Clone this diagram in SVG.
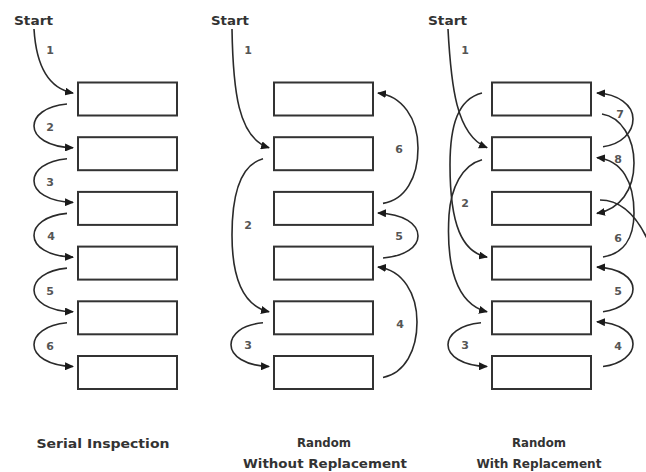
<svg xmlns="http://www.w3.org/2000/svg" width="646" height="472" viewBox="0 0 646 472">
<style>
.box{fill:#fff;stroke:#333;stroke-width:2}
.c{fill:none;stroke:#2a2a2a;stroke-width:1.6}
.a{marker-end:url(#ah)}
.n{font-family:"DejaVu Sans",sans-serif;font-weight:bold;font-size:11px;fill:#555;text-anchor:middle}
.s{font-family:"DejaVu Sans",sans-serif;font-weight:bold;font-size:13px;fill:#333;text-anchor:middle}
.t{font-family:"DejaVu Sans",sans-serif;font-weight:bold;font-size:12.5px;fill:#333;text-anchor:middle}
</style>
<defs>
<marker id="ah" markerUnits="userSpaceOnUse" markerWidth="9" markerHeight="8" refX="8" refY="4" orient="auto">
<path d="M0,0 L9,4 L0,8 z" fill="#1a1a1a"/>
</marker>
</defs>
<rect width="646" height="472" fill="#fff"/>

<g id="serial">
<text class="s" x="33.5" y="25" textLength="39" lengthAdjust="spacingAndGlyphs">Start</text>
<rect id="s1" class="box" x="78" y="82.5" width="99" height="33"/>
<rect id="s2" class="box" x="78" y="137.2" width="99" height="33"/>
<rect id="s3" class="box" x="78" y="191.9" width="99" height="33"/>
<rect id="s4" class="box" x="78" y="246.6" width="99" height="33"/>
<rect id="s5" class="box" x="78" y="301.3" width="99" height="33"/>
<rect id="s6" class="box" x="78" y="356" width="99" height="33"/>
<text class="t" x="103" y="448" textLength="133" lengthAdjust="spacingAndGlyphs">Serial Inspection</text>
</g>

<g id="without">
<text class="s" x="230" y="25" textLength="38" lengthAdjust="spacingAndGlyphs">Start</text>
<rect id="w1" class="box" x="274" y="82.5" width="99" height="33"/>
<rect id="w2" class="box" x="274" y="137.2" width="99" height="33"/>
<rect id="w3" class="box" x="274" y="191.9" width="99" height="33"/>
<rect id="w4" class="box" x="274" y="246.6" width="99" height="33"/>
<rect id="w5" class="box" x="274" y="301.3" width="99" height="33"/>
<rect id="w6" class="box" x="274" y="356" width="99" height="33"/>
<text class="t" x="324" y="447" textLength="54" lengthAdjust="spacingAndGlyphs">Random</text>
<text class="t" x="325" y="468" textLength="164" lengthAdjust="spacingAndGlyphs">Without Replacement</text>
</g>

<g id="with">
<text class="s" x="447.5" y="25" textLength="39" lengthAdjust="spacingAndGlyphs">Start</text>
<rect id="r1" class="box" x="492" y="82.5" width="99" height="33"/>
<rect id="r2" class="box" x="492" y="137.2" width="99" height="33"/>
<rect id="r3" class="box" x="492" y="191.9" width="99" height="33"/>
<rect id="r4" class="box" x="492" y="246.6" width="99" height="33"/>
<rect id="r5" class="box" x="492" y="301.3" width="99" height="33"/>
<rect id="r6" class="box" x="492" y="356" width="99" height="33"/>
<text class="t" x="539" y="447" textLength="54" lengthAdjust="spacingAndGlyphs">Random</text>
<text class="t" x="539" y="468" textLength="125" lengthAdjust="spacingAndGlyphs">With Replacement</text>
</g>

<g id="connectors">
<!-- serial -->
<path class="c a" d="M34,29 C36,62 46,88 73,93"/>
<path class="c a" d="M67,104 C45,106 34,116 34,126 C34,137 48,147 73,147.7"/>
<path class="c a" d="M67,158.7 C45,160.7 34,170.7 34,180.7 C34,191.7 48,201.7 73,202.4"/>
<path class="c a" d="M67,213.4 C45,215.4 34,225.4 34,235.4 C34,246.4 48,256.4 73,257.1"/>
<path class="c a" d="M67,268.1 C45,270.1 34,280.1 34,290.1 C34,301.1 48,311.1 73,311.8"/>
<path class="c a" d="M67,322.8 C45,324.8 34,334.8 34,344.8 C34,355.8 48,365.8 73,366.5"/>
<!-- without replacement -->
<path class="c a" d="M232,29 C233,90 238,138 269,147.7"/>
<path class="c a" d="M263,158.7 C240,165 232,195 232,235 C232,280 244,306 269,311.8"/>
<path class="c a" d="M263,322.8 C241,324.8 231,334.8 231,344.8 C231,355.8 245,365.8 269,366.5"/>
<path class="c a" d="M383,203.4 C405,200 418,178 418,148 C418,118 402,96 378,93"/>
<path class="c a" d="M383,258 C405,256 418,247 418,236 C418,224 404,214 378,213"/>
<path class="c a" d="M383,377.5 C405,373 417,350 417,322 C417,294 403,270 378,267"/>
<!-- with replacement -->
<path class="c a" d="M448,29 C451,85 456,135 487,147.7"/>
<path class="c a" d="M482,93 C458,99 450,125 450,165 C450,225 462,252 487,257.1"/>
<path class="c a" d="M482,159.7 C462,165 451,188 449,215 C446,265 456,304 487,311.8"/>
<path class="c a" d="M481,322.8 C459,324.8 448,334.8 448,344.8 C448,355.8 462,365.8 487,366.5"/>
<path class="c a" d="M603,146.7 C622,144 633,132 633,119 C633,105 618,94 597,93"/>
<path class="c a" d="M602,114 C621,117 634,138 634,163 C634,190 620,209 597,213.4"/>
<path class="c a" d="M603,257 C622,254 634,240 634,213 C634,182 622,160 597,157.7"/>
<path class="c a" d="M603,311.8 C622,309 633,299 633,289 C633,278 620,268 597,267.1"/>
<path class="c a" d="M603,366.5 C622,364 633,354 633,344 C633,333 620,323 597,321.8"/>
<path class="c" d="M600,200 C620,200 638,214 652,250"/>
</g>

<g id="labels">
<text class="n" x="50" y="54">1</text>
<text class="n" x="50" y="131">2</text>
<text class="n" x="50" y="186">3</text>
<text class="n" x="51" y="240">4</text>
<text class="n" x="50" y="295">5</text>
<text class="n" x="50" y="350">6</text>
<text class="n" x="248" y="54">1</text>
<text class="n" x="248" y="229">2</text>
<text class="n" x="248" y="349">3</text>
<text class="n" x="399" y="153">6</text>
<text class="n" x="399" y="240">5</text>
<text class="n" x="400" y="328">4</text>
<text class="n" x="465" y="54">1</text>
<text class="n" x="465" y="207">2</text>
<text class="n" x="465" y="349">3</text>
<text class="n" x="620" y="118">7</text>
<text class="n" x="618" y="163">8</text>
<text class="n" x="618" y="242">6</text>
<text class="n" x="618" y="295">5</text>
<text class="n" x="618" y="350">4</text>
</g>
</svg>
